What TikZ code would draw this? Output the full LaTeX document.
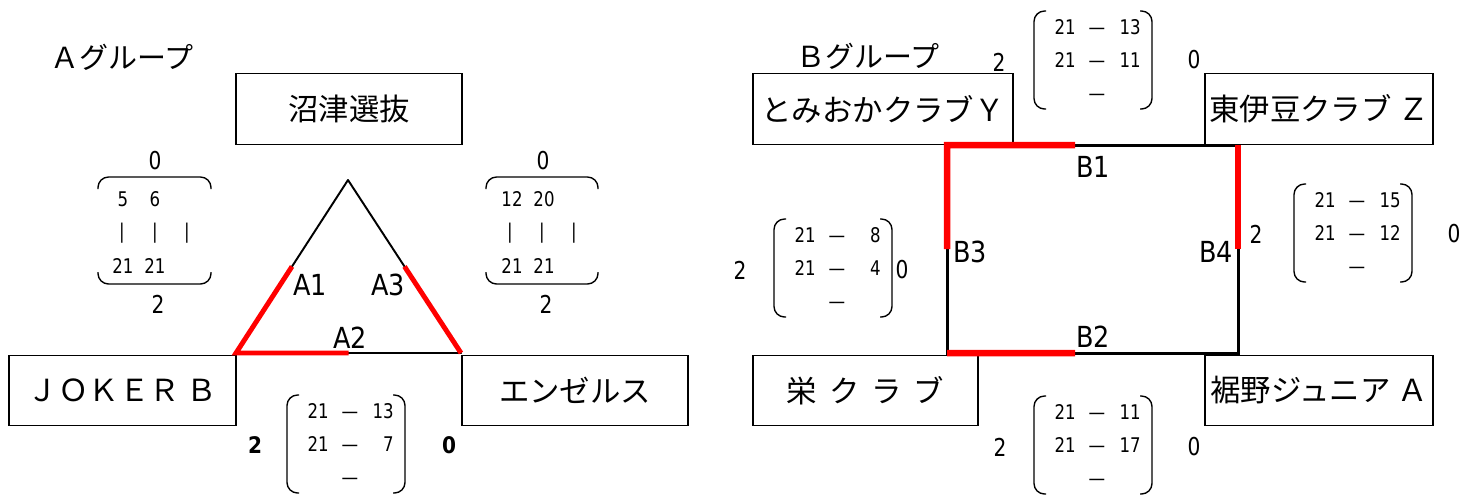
\documentclass[tikz,border=0pt]{standalone}
\usepackage{fontspec}
\setmainfont{DejaVu Sans}[FakeStretch=0.88]
\newfontfamily\jpfont{Noto Sans CJK JP}
\newfontfamily\narrowfont{DejaVu Sans}[FakeStretch=0.82]
\usetikzlibrary{calc,positioning}

% one score table: name, centre, points of the losers in games 1 and 2
\newcommand{\scoremat}[4]{%
  \begin{scope}[shift={#2}]
    \node[pts, anchor=east] (#1-a) at (-17,-33) {21};
    \node[pts]              (#1-ad) at (4,-33)  {—};
    \node[pts, anchor=east] (#1-b) at (48,-33)  {#3};
    \node[pts, anchor=east] (#1-c) at (-17,0)   {21};
    \node[pts]              (#1-cd) at (4,0)    {—};
    \node[pts, anchor=east] (#1-e) at (48,0)    {#4};
    \node[pts]              (#1-f) at (4,33)    {—};
    \draw[paren] (-47,-49) -- (-59,-49) -- (-59,49) -- (-47,49);
    \draw[paren] (47,-49) -- (59,-49) -- (59,49) -- (47,49);
  \end{scope}}

\begin{document}
\begin{tikzpicture}[x=0.02cm, y=-0.02cm,
    team/.style={draw, line width=0.8pt, inner sep=0, minimum width=4.52cm,
      minimum height=1.41cm, font=\jpfont\fontsize{17.3}{20}\selectfont},
    group/.style={font=\jpfont\fontsize{16.5}{20}\selectfont},
    game/.style={font=\fontsize{16.5}{20}\selectfont, inner sep=1pt},
    pts/.style={font=\narrowfont\fontsize{11.5}{13}\selectfont, inner sep=0, text height=8pt, text depth=0pt},
    wins/.style={font=\narrowfont\fontsize{14}{16}\selectfont, inner sep=0},
    lost/.style={line width=1.1pt, line join=round},
    won/.style={line width=2.8pt, red},
    paren/.style={line width=0.8pt, rounded corners=6pt}]
    \useasboundingbox (0,0) rectangle (1474,495);

    % A group
    \node[group] (ga) at (122,57) {Ａグループ};
    \node[team, minimum width=4.52cm] (numazu) at (349,109)   {沼津選抜};
    \node[team, minimum width=4.54cm] (joker)  at (122.5,390.5) {ＪＯＫＥＲ Ｂ};
    \node[team, minimum width=4.52cm] (angels) at (575,390.5) {エンゼルス};

    \coordinate (apex) at (348,180);
    \coordinate (bl)   at (236,353);
    \coordinate (br)   at (461,353);
    \draw[lost] (bl) -- (apex) -- (br) -- cycle;
    \draw[won] ($(bl)!0.5!(apex)$) -- (bl) -- ($(bl)!0.5!(br)$);
    \draw[won] (br) -- ($(br)!0.5!(apex)$);
    \node[game] (a1) at (310,285) {A1};
    \node[game] (a2) at (350,338) {A2};
    \node[game] (a3) at (388,285) {A3};

    % A1: JOKER B - numazu
    \node[wins] (a1-top) at (155,161) {0};
    \draw[paren] (98,189) -- (98,177) -- (211,177) -- (211,189);
    \node[pts] (a1-x1) at (123,199) {5};
    \node[pts] (a1-x2) at (155,199) {6};
    \node[pts] (a1-s1) at (122,231) {|};
    \node[pts] (a1-s2) at (155,231) {|};
    \node[pts] (a1-s3) at (187,231) {|};
    \node[pts] (a1-y1) at (123,266) {21};
    \node[pts] (a1-y2) at (155,266) {21};
    \draw[paren] (98,272) -- (98,284) -- (211,284) -- (211,272);
    \node[wins] (a1-bot) at (158,304) {2};

    % A3: numazu - angels
    \node[wins] (a3-top) at (543,161) {0};
    \draw[paren] (486,189) -- (486,177) -- (598,177) -- (598,189);
    \node[pts] (a3-x1) at (512,199) {12};
    \node[pts] (a3-x2) at (544,199) {20};
    \node[pts] (a3-s1) at (510,231) {|};
    \node[pts] (a3-s2) at (542,231) {|};
    \node[pts] (a3-s3) at (574,231) {|};
    \node[pts] (a3-y1) at (512,266) {21};
    \node[pts] (a3-y2) at (544,266) {21};
    \draw[paren] (486,272) -- (486,284) -- (598,284) -- (598,272);
    \node[wins] (a3-bot) at (546,304) {2};

    % A2: JOKER B - angels
    \scoremat{a2m}{(346,444)}{13}{7}
    \node[wins, font=\bfseries\fontsize{13}{15}\selectfont] (a2-l) at (255,445) {2};
    \node[wins, font=\bfseries\fontsize{13}{15}\selectfont] (a2-r) at (449,445) {0};

    % B group
    \node[group] (gb) at (868,56) {Ｂグループ};
    \node[team, minimum width=5.2cm]  (tomioka) at (883,109)    {とみおかクラブＹ};
    \node[team, minimum width=4.56cm] (izu)     at (1319,109)   {東伊豆クラブ Ｚ};
    \node[team, minimum width=4.5cm]  (sakae)   at (865.5,390.5) {栄\, ク\, ラ\, ブ};
    \node[team, minimum width=4.56cm] (susono)  at (1319,390.5) {裾野ジュニア Ａ};

    \coordinate (tl) at (947,145);
    \coordinate (tr) at (1238,145);
    \coordinate (rb) at (1238,353);
    \coordinate (lb) at (947,353);
    \draw[lost, line width=1.7pt, line join=miter] (tl) rectangle (rb);
    \draw[won, line width=3.7pt] ($(tl)!0.5!(lb)$) -- (tl) -- ($(tl)!0.44!(tr)$);
    \draw[won, line width=3.7pt] (tr) -- ($(tr)!0.5!(rb)$);
    \draw[won, line width=3.7pt] (lb) -- ($(lb)!0.44!(rb)$);
    \node[game] (b1) at (1093,167) {B1};
    \node[game] (b2) at (1093,337) {B2};
    \node[game] (b3) at (970,252)  {B3};
    \node[game] (b4) at (1216,252) {B4};

    \scoremat{b1m}{(1093,60)}{13}{11}
    \node[wins] (b1-l) at (999,62)  {2};
    \node[wins] (b1-r) at (1194,60) {0};

    \scoremat{b2m}{(1093,445)}{11}{17}
    \node[wins] (b2-l) at (1000,447) {2};
    \node[wins] (b2-r) at (1194,447) {0};

    \scoremat{b3m}{(833,268)}{8}{4}
    \node[wins] (b3-l) at (740,270) {2};
    \node[wins] (b3-r) at (902,270) {0};

    \scoremat{b4m}{(1353,233)}{15}{12}
    \node[wins] (b4-l) at (1256,234) {2};
    \node[wins] (b4-r) at (1454,234) {0};
\end{tikzpicture}
\end{document}
